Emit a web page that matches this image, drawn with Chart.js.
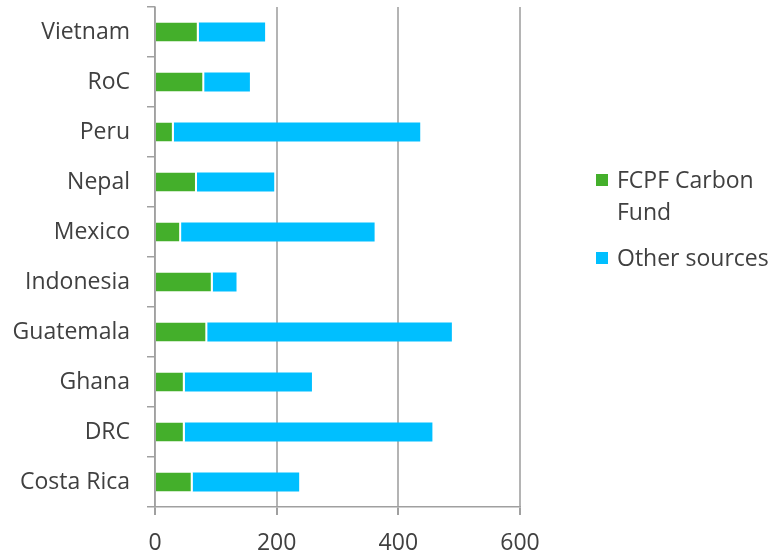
<!DOCTYPE html>
<html>
<head>
<meta charset="utf-8">
<script src="https://cdn.jsdelivr.net/npm/chart.js@4/dist/chart.umd.min.js"></script>
<style>
  html, body { margin: 0; padding: 0; background: #fff; }
  #wrap { position: relative; width: 773px; height: 556px; }
  #legend { position: absolute; left: 596px; top: 163px; font-family: "Open Sans", Lato, sans-serif; font-size: 23px; color: #404040; }
  .item { position: relative; padding-left: 21px; line-height: 32px; }
  .box { position: absolute; left: 0; top: 11px; width: 12px; height: 12px; }
</style>
</head>
<body>
<div id="wrap">
  <canvas id="c" width="773" height="556"></canvas>
  <div id="legend"></div>
</div>
<script>
const categories = ["Vietnam", "RoC", "Peru", "Nepal", "Mexico", "Indonesia", "Guatemala", "Ghana", "DRC", "Costa Rica"];
const fcpfCarbonFund = [72, 81, 31, 69, 43, 95, 86, 49, 49, 62];
const otherSources = [109, 75, 405, 127, 318, 39, 402, 209, 407, 175];
const seriesNames = [["FCPF Carbon", "Fund"], ["Other sources"]];
const xTicks = [0, 200, 400, 600];
const colors = ["#44AF2B", "#00BFFF"];

const textColor = "#404040";
const fontFamily = "'Open Sans', Lato, sans-serif";

new Chart(document.getElementById("c"), {
  type: "bar",
  data: {
    labels: categories,
    datasets: [
      { label: seriesNames[0].join(" "), data: fcpfCarbonFund, backgroundColor: colors[0],
        borderColor: "#ffffff", borderWidth: { right: 2 }, borderSkipped: false,
        categoryPercentage: 0.76, barPercentage: 0.5 },
      { label: seriesNames[1].join(" "), data: otherSources, backgroundColor: colors[1],
        borderWidth: 0, categoryPercentage: 0.76, barPercentage: 0.5 }
    ]
  },
  options: {
    indexAxis: "y",
    responsive: false,
    animation: false,
    layout: { padding: { top: 7, right: 253, bottom: 0, left: 0 } },
    plugins: { legend: { display: false }, tooltip: { enabled: false } },
    scales: {
      x: {
        stacked: true,
        min: 0, max: 600,
        afterBuildTicks: (axis) => { axis.ticks = xTicks.map(v => ({ value: v })); },
        afterFit: (axis) => { axis.height = 49; axis.paddingLeft = 0; axis.paddingRight = 0; },
        grid: { color: "#b4b4b4", lineWidth: 2, tickLength: 8, tickColor: "#a0a0a0", drawTicks: true },
        border: { color: "#a0a0a0", width: 1.5 },
        ticks: { color: textColor, font: { family: fontFamily, size: 23 }, padding: 15 }
      },
      y: {
        stacked: true,
        afterFit: (axis) => { axis.width = 155; axis.paddingTop = 0; axis.paddingBottom = 0; },
        grid: { offset: true, drawOnChartArea: false, tickLength: 8, color: "#a0a0a0", lineWidth: 1.5 },
        border: { color: "#a0a0a0", width: 1.5 },
        ticks: { color: textColor, font: { family: fontFamily, size: 23 }, padding: 17 }
      }
    }
  }
});

const legend = document.getElementById("legend");
seriesNames.forEach((lines, i) => {
  const item = document.createElement("div");
  item.className = "item";
  if (i > 0) item.style.marginTop = "14px";
  const box = document.createElement("span");
  box.className = "box";
  box.style.background = colors[i];
  item.appendChild(box);
  lines.forEach((t, j) => {
    if (j > 0) item.appendChild(document.createElement("br"));
    item.appendChild(document.createTextNode(t));
  });
  legend.appendChild(item);
});
</script>
</body>
</html>
